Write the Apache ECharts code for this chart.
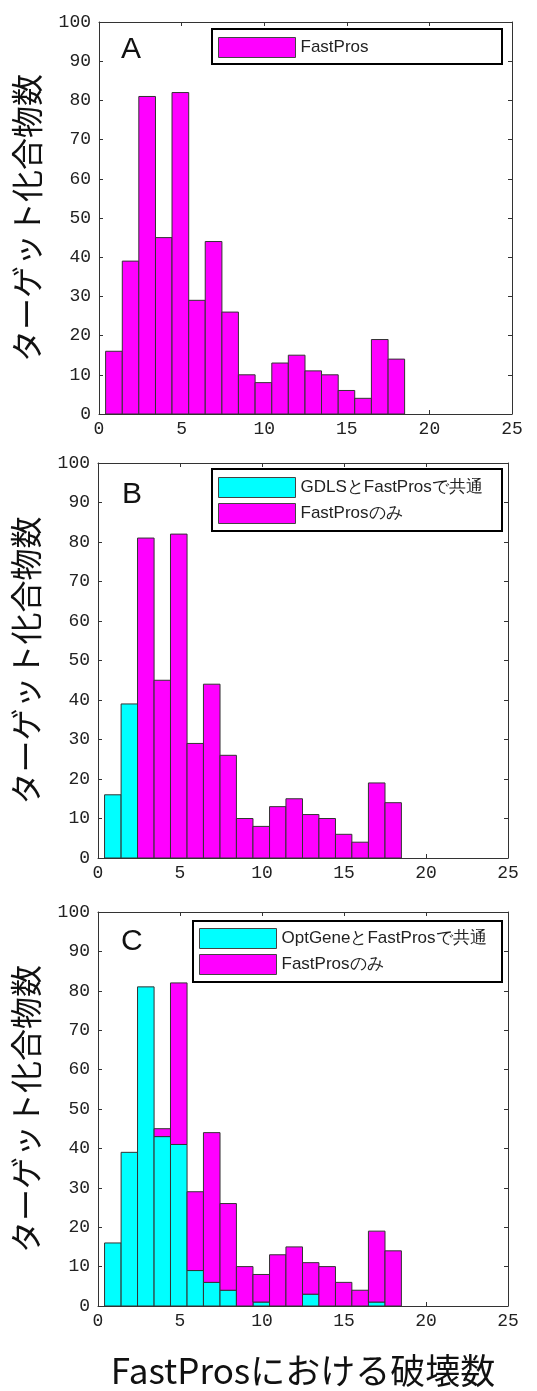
<!DOCTYPE html>
<html><head><meta charset="utf-8">
<script src="https://cdn.jsdelivr.net/npm/echarts@6/dist/echarts.min.js"></script>
<style>html,body{margin:0;padding:0;background:#fff}#c{width:537px;height:1391px}</style>
</head><body><div id="c"></div>
<script>
// Histogram bin edges (x units, 18 bins)
const binEdges = [0.40,1.41,2.41,3.42,4.42,5.43,6.43,7.44,8.44,9.45,10.46,11.46,12.47,13.47,14.48,15.48,16.49,17.50,18.50];
// Total number of target compounds per bin (FastPros)
const totalCounts = [16,39,81,45,82,29,44,26,10,8,13,15,11,10,6,4,19,14];
// Bins shared with GDLS (panel B)
const gdlsShared = [16,39,0,0,0,0,0,0,0,0,0,0,0,0,0,0,0,0];
// Bins shared with OptGene (panel C)
const optShared = [16,39,81,43,41,9,6,4,0,1,0,0,3,0,0,0,1,0];

const panelLabels = ['A','B','C'];
const yTickMax = 100, yTickStep = 10, xTickMax = 25, xTickStep = 5;
const yTitle = 'ターゲット化合物数';
const xTitle = 'FastProsにおける破壊数';
const nameA = 'FastPros';
const nameB = 'GDLSとFastProsで共通';
const nameC = 'OptGeneとFastProsで共通';
const nameOnly = 'FastProsのみ';

const MAG = '#ff00ff', CYA = '#00ffff', EDGE = '#333';
const tickFont = {fontFamily:'Liberation Mono', fontSize:18, color:'#222'};

function segs(base, top){
  return totalCounts.map((v,i)=>[binEdges[i], binEdges[i+1], base ? base[i] : 0, top ? top[i] : v]);
}
function renderBar(params, api){
  const x0=api.value(0), x1=api.value(1), y0=api.value(2), y1=api.value(3);
  if (y1 <= y0) return null;
  const p0=api.coord([x0,y0]), p1=api.coord([x1,y1]);
  return {type:'rect', shape:{x:p0[0], y:p1[1], width:p1[0]-p0[0], height:p0[1]-p1[1]},
    style:{fill:api.visual('color'), stroke:EDGE, lineWidth:1}};
}

const grids = [
  {left:99, right:25, top:22, height:392},
  {left:98, right:29, top:463, height:395},
  {left:98, right:29, top:912, height:394}
];
const lineSt = {show:true, onZero:false, lineStyle:{color:'#333',width:1}};
const tickSt = {show:true, inside:true, length:4, lineStyle:{color:'#333'}};
const xAxes=[], yAxes=[];
grids.forEach((g,i)=>{
  xAxes.push({type:'value', gridIndex:i, min:0, max:xTickMax, interval:xTickStep, position:'bottom',
    axisLine:lineSt, axisTick:tickSt,
    axisLabel:Object.assign({margin:6}, tickFont), splitLine:{show:false},
    name: i===2 ? xTitle : '', nameLocation:'middle', nameGap:47,
    nameTextStyle:{fontFamily:'Noto Sans CJK JP', fontSize:35, color:'#111'}});
  xAxes.push({type:'value', gridIndex:i, min:0, max:xTickMax, interval:xTickStep, position:'top',
    axisLine:lineSt, axisTick:tickSt,
    axisLabel:{show:false}, splitLine:{show:false}});
  yAxes.push({type:'value', gridIndex:i, min:0, max:yTickMax, interval:yTickStep, position:'left',
    axisLine:lineSt, axisTick:tickSt,
    axisLabel:Object.assign({margin:8}, tickFont), splitLine:{show:false},
    name:yTitle, nameLocation:'middle', nameRotate:90, nameGap:56,
    nameTextStyle:{fontFamily:'Noto Sans CJK JP', fontSize:32, color:'#111'}});
  yAxes.push({type:'value', gridIndex:i, min:0, max:yTickMax, interval:yTickStep, position:'right',
    axisLine:lineSt, axisTick:tickSt,
    axisLabel:{show:false}, splitLine:{show:false}});
});

function ser(name, gi, color, data){
  return {type:'custom', name, xAxisIndex:gi*2, yAxisIndex:gi*2, renderItem:renderBar,
    itemStyle:{color, borderColor:'#444', borderWidth:1}, encode:{x:[0,1], y:[2,3]}, data};
}
const series = [
  ser(nameA, 0, MAG, segs(null,null)),
  ser(nameB, 1, CYA, segs(null, gdlsShared)),
  ser(nameOnly, 1, MAG, segs(gdlsShared, null)),
  ser(nameC, 2, CYA, segs(null, optShared)),
  ser(nameOnly, 2, MAG, segs(optShared, null))
];

const legendText = {fontFamily:'Liberation Sans', fontSize:17, color:'#222'};
function leg(left, top, items){
  return {left, top, orient:'vertical', padding:0, itemGap:5, itemWidth:77, itemHeight:20, icon:'rect',
    selectedMode:false, textStyle:legendText, itemStyle:{borderColor:'#444', borderWidth:1},
    data:items.map(([n,c])=>({name:n, itemStyle:{color:c, borderColor:'#444', borderWidth:1}}))};
}

const option = {
  backgroundColor:'#fff',
  animation:false,
  grid:grids,
  xAxis:xAxes, yAxis:yAxes, series,
  title:[
    {text:panelLabels[0], left:121, top:35, padding:0, textStyle:{fontFamily:'Liberation Sans', fontSize:30, fontWeight:'normal', color:'#111'}},
    {text:panelLabels[1], left:122, top:480, padding:0, textStyle:{fontFamily:'Liberation Sans', fontSize:30, fontWeight:'normal', color:'#111'}},
    {text:panelLabels[2], left:121, top:927, padding:0, textStyle:{fontFamily:'Liberation Sans', fontSize:30, fontWeight:'normal', color:'#111'}}
  ],
  legend:[
    leg(218, 37, [[nameA, MAG]]),
    leg(218, 477, [[nameB, CYA],[nameOnly, MAG]]),
    leg(199, 928, [[nameC, CYA],[nameOnly, MAG]])
  ],
  graphic:[
    {type:'rect', shape:{x:212, y:29, width:290, height:35}, style:{fill:null, stroke:'#000', lineWidth:2}, z:100},
    {type:'rect', shape:{x:212, y:469, width:290, height:62}, style:{fill:null, stroke:'#000', lineWidth:2}, z:100},
    {type:'rect', shape:{x:193, y:921, width:309, height:61}, style:{fill:null, stroke:'#000', lineWidth:2}, z:100}
  ]
};
const chart = echarts.init(document.getElementById('c'), null, {renderer:'canvas'});
chart.setOption(option);
</script></body></html>
